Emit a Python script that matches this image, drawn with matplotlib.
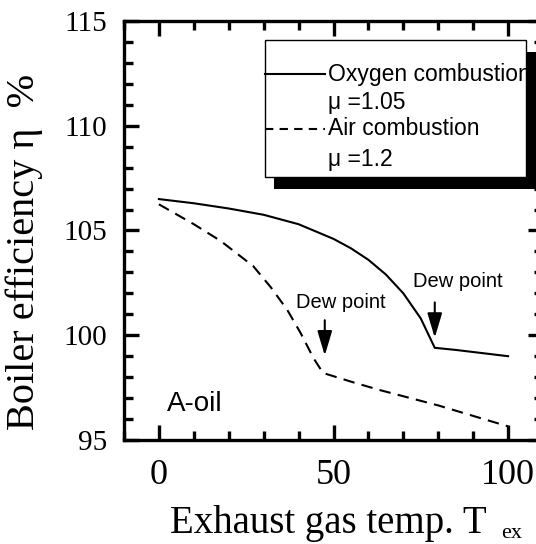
import matplotlib
matplotlib.use('Agg')
import matplotlib.pyplot as plt
from matplotlib.patches import Rectangle
from matplotlib.ticker import MultipleLocator

# data
oxy_T = [0, 10, 20, 30, 40, 50, 55, 60, 65, 70, 75, 79, 85, 90, 100]
oxy_eta = [106.5, 106.3, 106.05, 105.75, 105.3, 104.6, 104.15, 103.6, 102.9, 102.0, 100.8, 99.4, 99.3, 99.2, 99.0]
air_T = [0, 10, 17.7, 27, 32, 36.8, 40.6, 44.3, 47, 55.7, 62.9, 80, 100]
air_eta = [106.25, 105.3, 104.5, 103.3, 102.3, 101.2, 100.1, 98.9, 98.2, 97.75, 97.4, 96.65, 95.65]
dew_T = [47.5, 79]
dew_eta = [98.9, 99.75]

serif = 'Liberation Serif'
sans = 'Liberation Sans'

fig = plt.figure(figsize=(5.36, 5.44), dpi=100)
W, H = 536, 544
ax = fig.add_axes([124 / W, (H - 440) / H, (543 - 124) / W, (440 - 21) / H])

ax.plot(oxy_T, oxy_eta, color='black', lw=1.5)
ax.plot(air_T, air_eta, color='black', lw=1.5, dashes=(5.5, 3.5))

ax.set_xlim(-10, 110)
ax.set_ylim(95, 115)
ax.xaxis.set_major_locator(MultipleLocator(50))
ax.xaxis.set_minor_locator(MultipleLocator(10))
ax.yaxis.set_major_locator(MultipleLocator(5))
ax.yaxis.set_minor_locator(MultipleLocator(1))
ax.tick_params(which='both', direction='in', top=True, right=True, width=2.4)
ax.tick_params(which='major', length=11)
ax.tick_params(which='minor', length=6.5)
ax.tick_params(axis='x', labelsize=26, pad=14)
ax.tick_params(axis='y', labelsize=21, pad=12)
for lab in ax.get_xticklabels() + ax.get_yticklabels():
    lab.set_family(serif)
for s in ax.spines.values():
    s.set_linewidth(2.4)

# labels
fig.text(0.045, 0.537, 'Boiler efficiency \u03b7  %', rotation=90, ha='center', va='center',
         family=serif, fontsize=29)
fig.text(170 / W, 11 / H, 'Exhaust gas temp. T', ha='left', va='baseline',
         family=serif, fontsize=28)
fig.text(501 / W, 6 / H, 'ex', ha='left', va='baseline', family=serif, fontsize=16)

# dew point arrows
for t, e, tx, ty in zip(dew_T, dew_eta, [52, 85.7], [101.55, 102.55]):
    ax.annotate('', xy=(t, e), xytext=(t, e + 1.95),
                arrowprops=dict(arrowstyle='-|>,head_length=1.5,head_width=0.45', color='black', lw=1.5))
    ax.text(tx, ty, 'Dew point', family=sans, fontsize=14.5, ha='center', va='center')

ax.text(2.3, 96.7, 'A-oil', family=sans, fontsize=20, ha='left', va='center')

# legend box with black shadow
shadow = Rectangle((33.1, 106.97), 80, 6.55, facecolor='black', edgecolor='none', zorder=5)
box = Rectangle((30.3, 107.54), 74.8, 6.55, facecolor='white', edgecolor='black', lw=1, zorder=6)
ax.add_patch(shadow)
ax.add_patch(box)
ax.plot([30.3, 47.5], [112.45, 112.45], color='black', lw=1.5, zorder=7)
ax.plot([30.3, 47.5], [109.85, 109.85], color='black', lw=1.5, dashes=(4, 3), zorder=7)
rows = ['Oxygen combustion', '\u03bc =1.05', 'Air combustion', '\u03bc =1.2']
row_y = [112.45, 111.1, 109.85, 108.4]
for txt, yy in zip(rows, row_y):
    t = ax.text(48.3, yy, txt, family=sans, fontsize=16.5, ha='left', va='center', zorder=8)
    t.set_clip_path(box)

fig.savefig('out.png', dpi=100)
